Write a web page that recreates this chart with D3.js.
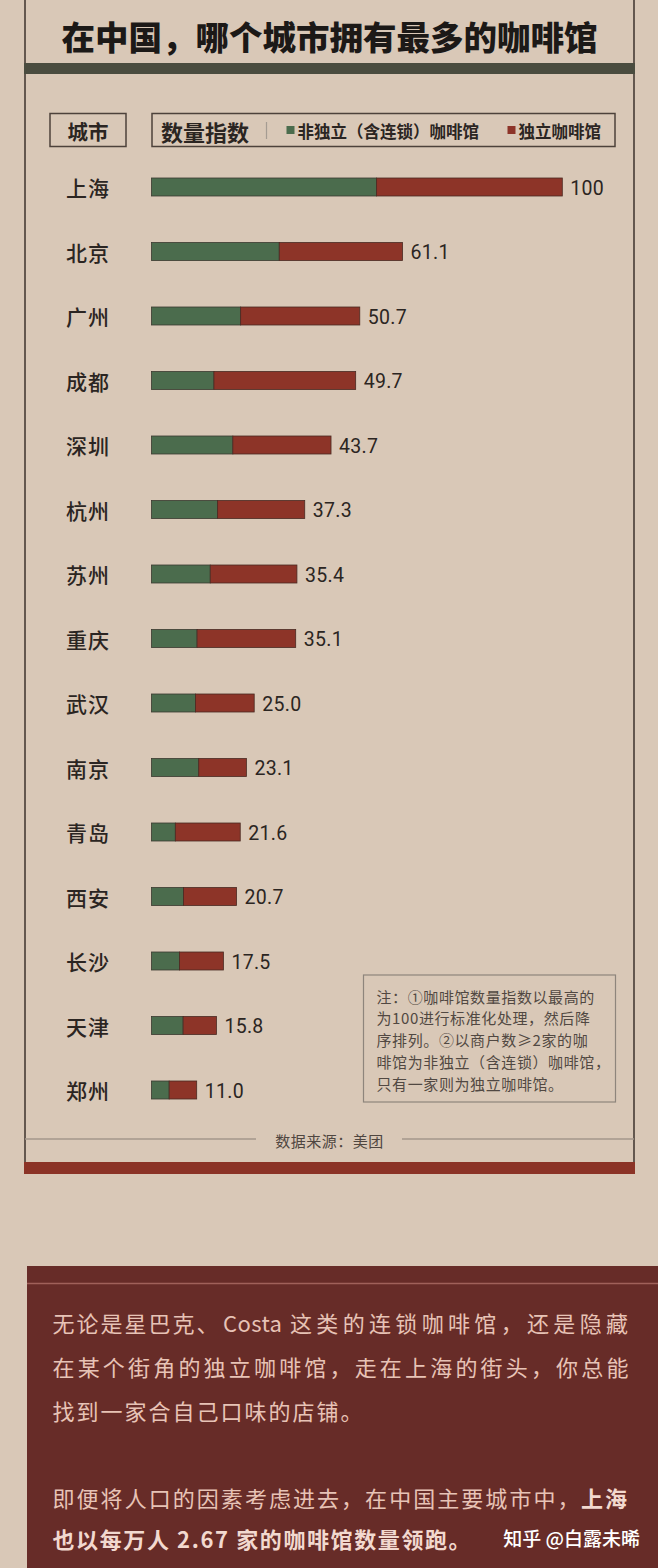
<!DOCTYPE html>
<html>
<head>
<meta charset="utf-8">
<script src="https://cdn.jsdelivr.net/npm/d3@7"></script>
<style>
  html, body { margin: 0; padding: 0; background: #d9c8b7; }
  svg { display: block; }
</style>
</head>
<body>
<svg id="chart" width="658" height="1568"></svg>
<script>
// ---------- data ----------
const cities = ["上海","北京","广州","成都","深圳","杭州","苏州","重庆","武汉","南京","青岛","西安","长沙","天津","郑州"];
const chainShops = [54.8, 31.1, 21.7, 15.2, 19.8, 16.1, 14.3, 11.1, 10.7, 11.5, 5.8, 7.8, 6.8, 7.7, 4.3];
const independentShops = [45.2, 30.0, 29.0, 34.5, 23.9, 21.2, 21.1, 24.0, 14.3, 11.6, 15.8, 12.9, 10.7, 8.1, 6.7];
const indexLabels = ["100","61.1","50.7","49.7","43.7","37.3","35.4","35.1","25.0","23.1","21.6","20.7","17.5","15.8","11.0"];
const seriesNames = ["非独立（含连锁）咖啡馆", "独立咖啡馆"];
const titleText = "在中国，哪个城市拥有最多的咖啡馆";
const noteLines = ["注：①咖啡馆数量指数以最高的","为100进行标准化处理，然后降","序排列。②以商户数≥2家的咖","啡馆为非独立（含连锁）咖啡馆，","只有一家则为独立咖啡馆。"];
const sourceText = "数据来源：美团";

// ---------- styles ----------
const CJK = "'Noto Sans CJK SC', 'Noto Sans', sans-serif";
const NUM = "Roboto, 'Noto Sans', sans-serif";
const colors = { bg: "#d9c8b7", green: "#4b6c4d", red: "#8d3428", frame: "#3d332c",
  band: "#4a4c3f", redBand: "#8b3326", panel: "#672c28", ink: "#2b2522" };

const svg = d3.select("#chart");
svg.append("rect").attr("width", 658).attr("height", 1568).attr("fill", colors.bg);

// frame
svg.append("line").attr("x1", 25).attr("x2", 25).attr("y1", 0).attr("y2", 1163)
  .attr("stroke", colors.frame).attr("stroke-width", 1.5);
svg.append("line").attr("x1", 634).attr("x2", 634).attr("y1", 0).attr("y2", 1163)
  .attr("stroke", colors.frame).attr("stroke-width", 1.5);

// title
svg.append("text").attr("x", 329.5).attr("y", 35).attr("text-anchor", "middle")
  .attr("dominant-baseline", "central")
  .style("font-family", CJK).style("font-size", "33.5px").style("font-weight", 900)
  .attr("fill", "#1c1917").text(titleText);

// green band
svg.append("rect").attr("x", 24).attr("y", 63).attr("width", 611).attr("height", 11).attr("fill", colors.band);

// header boxes
svg.append("rect").attr("x", 50).attr("y", 113.5).attr("width", 76).attr("height", 33)
  .attr("fill", "none").attr("stroke", "#4d423b").attr("stroke-width", 1.5);
svg.append("text").attr("x", 88).attr("y", 130.5).attr("text-anchor", "middle").attr("dominant-baseline", "central")
  .style("font-family", CJK).style("font-size", "20.5px").style("font-weight", 700).attr("fill", colors.ink).text("城市");

svg.append("rect").attr("x", 152).attr("y", 113.5).attr("width", 463).attr("height", 33)
  .attr("fill", "none").attr("stroke", "#4d423b").attr("stroke-width", 1.5);
svg.append("text").attr("x", 161).attr("y", 130.5).attr("dominant-baseline", "central")
  .style("font-family", CJK).style("font-size", "22px").style("font-weight", 700).attr("fill", colors.ink).text("数量指数");
svg.append("line").attr("x1", 266.5).attr("x2", 266.5).attr("y1", 122).attr("y2", 139)
  .attr("stroke", "#a59c92").attr("stroke-width", 1.2);

const legendX = [286.5, 507.5];
const legendColors = [colors.green, colors.red];
seriesNames.forEach((name, i) => {
  svg.append("rect").attr("x", legendX[i]).attr("y", 126).attr("width", 8).attr("height", 8).attr("fill", legendColors[i]);
  svg.append("text").attr("x", legendX[i] + 11).attr("y", 130.5).attr("dominant-baseline", "central")
    .style("font-family", CJK).style("font-size", "16.5px").style("font-weight", 700).attr("fill", colors.ink).text(name);
});

// ---------- scales ----------
const x = d3.scaleLinear().domain([0, 100]).range([151.5, 562.3]);
const y = d3.scalePoint().domain(cities).range([187, 1090]);
const barH = 18;

const rows = cities.map((c, i) => ({ city: c, chain: chainShops[i], indep: independentShops[i], label: indexLabels[i] }));

const g = svg.append("g");
const row = g.selectAll("g.row").data(rows).join("g").attr("class", "row");

row.append("text").attr("x", 66).attr("y", d => y(d.city)).attr("dominant-baseline", "central")
  .style("font-family", CJK).style("font-size", "21px").style("font-weight", 500).style("letter-spacing", "1px")
  .attr("fill", colors.ink).text(d => d.city);

row.append("rect").attr("x", x(0)).attr("y", d => y(d.city) - barH / 2)
  .attr("width", d => x(d.chain) - x(0)).attr("height", barH)
  .attr("fill", colors.green).attr("stroke", "#3b3a30").attr("stroke-width", 0.8);
row.append("rect").attr("x", d => x(d.chain)).attr("y", d => y(d.city) - barH / 2)
  .attr("width", d => x(d.chain + d.indep) - x(d.chain)).attr("height", barH)
  .attr("fill", colors.red).attr("stroke", "#4a2a22").attr("stroke-width", 0.8);

row.append("text").attr("x", d => x(d.chain + d.indep) + 8).attr("y", d => y(d.city) + 1)
  .attr("dominant-baseline", "central")
  .style("font-family", NUM).style("font-size", "19.5px").style("letter-spacing", "0.3px")
  .attr("fill", colors.ink).text(d => d.label);

// note box
svg.append("rect").attr("x", 363.5).attr("y", 975).attr("width", 252).attr("height", 127)
  .attr("fill", "none").attr("stroke", "#8e857c").attr("stroke-width", 1.2);
svg.append("g").selectAll("text").data(noteLines).join("text")
  .attr("x", 376.5).attr("y", (d, i) => 996 + i * 21.8).attr("dominant-baseline", "central")
  .style("font-family", CJK).style("font-size", "15px").style("letter-spacing", "0.6px")
  .attr("fill", "#514842").text(d => d);

// source line
svg.append("line").attr("x1", 25).attr("x2", 256).attr("y1", 1139).attr("y2", 1139).attr("stroke", "#a3978b").attr("stroke-width", 1.5);
svg.append("line").attr("x1", 402).attr("x2", 634).attr("y1", 1139).attr("y2", 1139).attr("stroke", "#a3978b").attr("stroke-width", 1.5);
svg.append("text").attr("x", 329.5).attr("y", 1140).attr("text-anchor", "middle").attr("dominant-baseline", "central")
  .style("font-family", CJK).style("font-size", "15px").style("letter-spacing", "0.5px")
  .attr("fill", "#4f4640").text(sourceText);

// red band
svg.append("rect").attr("x", 24).attr("y", 1162).attr("width", 611).attr("height", 12).attr("fill", colors.redBand);

// bottom panel
svg.append("rect").attr("x", 27).attr("y", 1266).attr("width", 631).attr("height", 302).attr("fill", colors.panel);
svg.append("line").attr("x1", 27).attr("x2", 658).attr("y1", 1283.5).attr("y2", 1283.5).attr("stroke", "#a0615a").attr("stroke-width", 1.5);

const para = svg.append("g").style("font-family", CJK).style("font-size", "22px").attr("fill", "#e7c3b6");
para.append("text").attr("x", 52.5).attr("y", 1322).attr("dominant-baseline", "central")
  .style("letter-spacing", "2px").text("无论是星巴克、");
para.append("text").attr("x", 223).attr("y", 1322).attr("dominant-baseline", "central")
  .style("letter-spacing", "0.4px").text("Costa");
para.append("text").attr("x", 290).attr("y", 1322).attr("dominant-baseline", "central")
  .attr("textLength", 338).attr("lengthAdjust", "spacing").text("这类的连锁咖啡馆，还是隐藏");
para.append("text").attr("x", 52.5).attr("y", 1366).attr("dominant-baseline", "central")
  .attr("textLength", 576).attr("lengthAdjust", "spacing").text("在某个街角的独立咖啡馆，走在上海的街头，你总能");
para.append("text").attr("x", 52.5).attr("y", 1410).attr("dominant-baseline", "central")
  .style("letter-spacing", "2px").text("找到一家合自己口味的店铺。");
para.append("text").attr("x", 52.5).attr("y", 1497).attr("dominant-baseline", "central")
  .attr("textLength", 527).attr("lengthAdjust", "spacing").text("即便将人口的因素考虑进去，在中国主要城市中，");
para.append("text").attr("x", 581).attr("y", 1497).attr("dominant-baseline", "central")
  .style("font-weight", 700).attr("fill", "#f2d9cf").style("letter-spacing", "2px").text("上海");
para.append("text").attr("x", 52.5).attr("y", 1538).attr("dominant-baseline", "central")
  .style("font-weight", 700).attr("fill", "#f2d9cf").style("letter-spacing", "1.6px").text("也以每万人 2.67 家的咖啡馆数量领跑。");

// watermark
svg.append("text").attr("x", 640).attr("y", 1537).attr("text-anchor", "end").attr("dominant-baseline", "central")
  .style("font-family", CJK).style("font-size", "19px").style("font-weight", 500)
  .attr("fill", "#ffffff").text("知乎 @白露未晞");
</script>
</body>
</html>
